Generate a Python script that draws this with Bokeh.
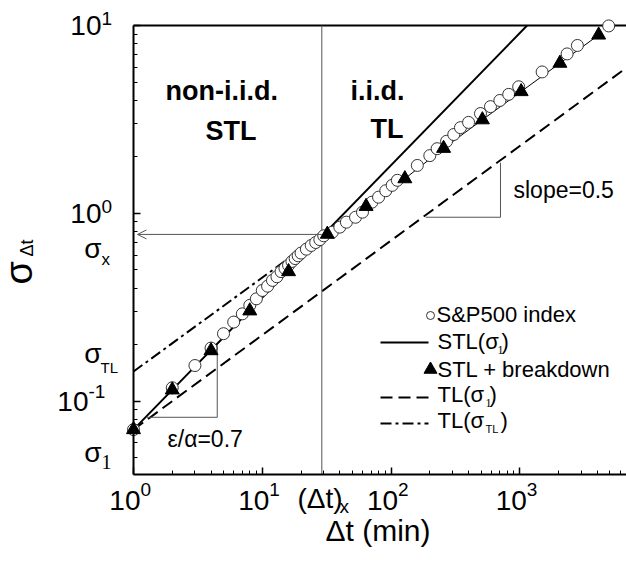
import math
from bokeh.plotting import figure
from bokeh.models import (Range1d, FixedTicker, Arrow, OpenHead, Label,
                          CustomJSTickFormatter)
from bokeh.embed import file_html
from bokeh.resources import INLINE

# ---------------- data ----------------
sp_dt = [1, 2, 3, 4, 5, 6, 7, 8, 9, 10, 11, 12, 13, 14, 15, 16, 17, 18, 19, 20,
         22, 24, 26, 28, 30, 35, 40, 45, 53, 60, 71, 80, 91, 102, 112,
         160, 200, 228, 270, 307, 346, 400, 495, 592, 700, 820, 980,
         1490, 2330, 2800, 4900]
sp_sigma = [0.0707, 0.118, 0.155, 0.192, 0.229, 0.264, 0.292, 0.324, 0.351, 0.389,
            0.41, 0.44, 0.46, 0.49, 0.51, 0.53, 0.555, 0.575, 0.595, 0.615,
            0.645, 0.675, 0.70, 0.725, 0.76, 0.794, 0.845, 0.898, 0.954, 1.015,
            1.147, 1.22, 1.32, 1.41, 1.50,
            1.80, 2.03, 2.21, 2.42, 2.63, 2.86, 3.05, 3.40, 3.70, 3.99, 4.30, 4.72,
            5.66, 7.06, 7.83, 9.95]
bd_dt = [1, 2, 4, 8, 16, 32, 64, 128, 256, 512, 1024, 2048, 4096]
bd_sigma = [0.0707, 0.115, 0.186, 0.303, 0.49, 0.775, 1.09, 1.53, 2.22, 3.15, 4.45, 6.3, 8.9]
stl_dt, stl_sigma = [1, 1140], [0.0707, 10.0]
tl1_dt, tl1_sigma = [1, 6600], [0.0707, 5.9]
tltl_dt, tltl_sigma = [1, 29], [0.144, 0.775]
dt_x, sigma_x = 29, 0.773
slope07_dt, slope07_sigma = [1.26, 4.47, 4.47], [0.0822, 0.0822, 0.199]
slope05_dt, slope05_sigma = [186, 708, 708], [0.954, 0.954, 1.86]
x_major = [1, 10, 100, 1000]
x_exp = ["0", "1", "2", "3"]
y_major = [0.1, 1, 10]
y_exp = ["-1", "0", "1"]

# ---------------- layout ----------------
W, H = 626, 561
FL, FT, FB = 133, 25, 474      # axes box (left, top, bottom) in pixels
DEC_X, DEC_Y = 128.77, 187.9   # pixels per decade


def fx(px):
    return 10 ** ((px - FL) / DEC_X)


def fy(py):
    return 10 ** (1 - (py - FT) / DEC_Y)


XA0, XA1 = 1.0, fx(W)          # axis extents
YA0, YA1 = fy(FB), 10.0

FONT = "Liberation Sans"

p = figure(width=W, height=H, x_axis_type="log", y_axis_type="log",
           x_range=Range1d(fx(0), fx(W)), y_range=Range1d(fy(H), fy(0)),
           output_backend="svg", toolbar_location=None,
           min_border=0)
p.xgrid.visible = False
p.ygrid.visible = False
p.outline_line_color = None
p.background_fill_color = "white"

x_minor = [m * 10 ** e for e in range(0, 4) for m in range(2, 10) if m * 10 ** e < XA1]
y_minor = [m * 10 ** e for e in (-2, -1, 0) for m in range(2, 10) if YA0 < m * 10 ** e < YA1]
p.xaxis.ticker = FixedTicker(ticks=x_major, minor_ticks=x_minor)
p.yaxis.ticker = FixedTicker(ticks=y_major, minor_ticks=y_minor)
p.xaxis.fixed_location = YA0
p.yaxis.fixed_location = XA0
p.xaxis.bounds = (XA0, XA1)
p.yaxis.bounds = (YA0, YA1)
for ax in (p.xaxis, p.yaxis):
    ax.formatter = CustomJSTickFormatter(code="return ''")
    ax.major_label_text_font_size = "10px"
    ax.axis_line_width = 2
    ax.axis_line_color = "black"
    ax.major_tick_in = 7
    ax.major_tick_out = 0
    ax.minor_tick_in = 4
    ax.minor_tick_out = 0
    ax.major_tick_line_width = 1.5
    ax.minor_tick_line_width = 1
    ax.major_tick_line_color = "black"
    ax.minor_tick_line_color = "black"

# top border line of the axes box
p.line([XA0, XA1], [YA1, YA1], line_color="black", line_width=2)

# reference lines
p.line(tl1_dt, tl1_sigma, line_color="black", line_width=2, line_dash="12 6")
p.line(tltl_dt, tltl_sigma, line_color="black", line_width=2, line_dash="11 4 3 4")
p.line(stl_dt, stl_sigma, line_color="black", line_width=2)
p.line(bd_dt, bd_sigma, line_color="black", line_width=1)
p.line([dt_x, dt_x], [YA0, YA1], line_color="#555555", line_width=1)
p.add_layout(Arrow(end=OpenHead(size=9, line_color="#555555", line_width=1),
                   x_start=dt_x, y_start=sigma_x, x_end=fx(137), y_end=sigma_x,
                   line_color="#555555", line_width=1))
p.line(slope07_dt, slope07_sigma, line_color="#555555", line_width=1)
p.line(slope05_dt, slope05_sigma, line_color="#555555", line_width=1)

# data points
p.scatter(sp_dt, sp_sigma, marker="circle", size=12, fill_color="white",
          line_color="#333333", line_width=1)
p.scatter(bd_dt, bd_sigma, marker="triangle", size=14, fill_color="black",
          line_color="black")

MID = 0.35  # distance from baseline to the text's vertical middle, in em


def lab(text, px, py, size, align="left", bold=False, font=FONT, rotated=False):
    """px, py: start/end of text and its baseline, in pixels."""
    if rotated:
        x, y, ang = px - MID * size, py, math.pi / 2
    else:
        x, y, ang = px, py - MID * size, 0.0
    p.add_layout(Label(x=fx(x), y=fy(y), text=text, text_font=font,
                       text_font_size=f"{size}px", text_align=align,
                       text_baseline="middle", angle=ang,
                       text_font_style="bold" if bold else "normal",
                       text_color="black"))


# y tick labels
y_base = {0.1: (88, 411, 398), 1: (101, 223, 213), 10: (101, 35, 25)}
for v, e in zip(y_major, y_exp):
    rx, b, sb = y_base[v]
    lab("10", rx, b, 28, align="right")
    lab(e, rx, sb, 19)

# x tick labels
for v, e in zip(x_major, x_exp):
    tx = FL + DEC_X * math.log10(v)
    lab("10", tx + 7, 510, 28, align="right")
    lab(e, tx + 7, 496, 19)

lab("(Δt)", 297, 508, 28)
lab("x", 339, 513, 19)
lab("Δt (min)", 325, 540, 30)

# sigma labels on y axis
lab("σ", 101, 258, 28, align="right")
lab("x", 101, 265, 17)
lab("σ", 101, 363, 28, align="right")
lab("TL", 100, 372, 15)
lab("σ", 101, 462, 28, align="right")
lab("1", 101, 468, 20, font="Liberation Serif")

# y axis title
lab("σ", 32, 284, 38, rotated=True)
lab("Δt", 33, 256, 18, rotated=True)

# region texts
lab("non-i.i.d.", 165, 100, 27, bold=True)
lab("STL", 205, 140, 27, bold=True)
lab("i.i.d.", 350, 100, 27, bold=True)
lab("TL", 370, 138, 27, bold=True)
lab("slope=0.5", 513, 198, 23)
lab("ε/α=0.7", 167, 447, 23)

# legend
LX0, LX1 = 380, 428
p.scatter([fx(430)], [fy(315)], marker="circle", size=8, fill_color="white",
          line_color="#333333", line_width=1)
p.line([fx(LX0), fx(LX1)], [fy(342), fy(342)], line_color="black", line_width=2)
p.scatter([fx(430)], [fy(369)], marker="triangle", size=13, fill_color="black",
          line_color="black")
p.line([fx(LX0), fx(LX1)], [fy(397), fy(397)], line_color="black", line_width=2,
       line_dash="12 6")
p.line([fx(LX0), fx(LX1)], [fy(423), fy(423)], line_color="black", line_width=2,
       line_dash="11 4 3 4")
LF = 22
lab("S&P500 index", 436, 322, LF)
lab("STL(σ", 437, 349, LF)
lab("1", 497, 354, 12, font="Liberation Serif")
lab(")", 501, 349, LF)
lab("STL + breakdown", 437, 377, LF)
lab("TL(σ", 437, 402, LF)
lab("1", 485, 407, 12, font="Liberation Serif")
lab(")", 489, 402, LF)
lab("TL(σ", 437, 428, LF)
lab("TL", 485, 432, 11)
lab(")", 500, 428, LF)

open("out.html", "w").write(file_html(p, INLINE))
